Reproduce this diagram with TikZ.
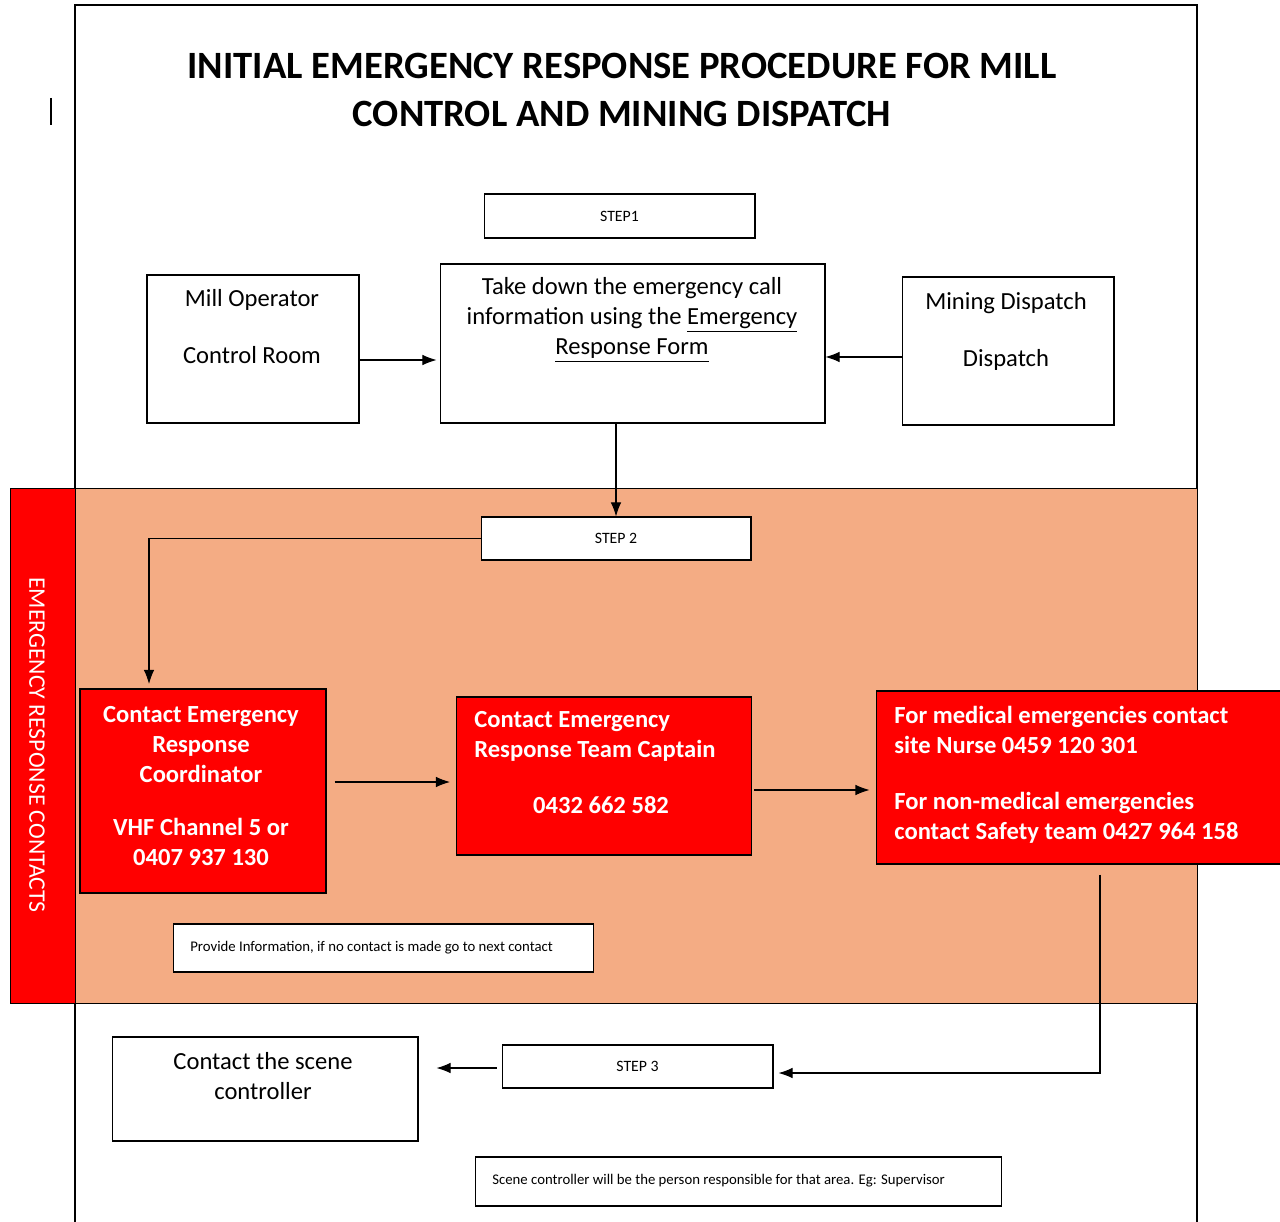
\documentclass[tikz,border=0pt]{standalone}
\usepackage{fontspec}
\setmainfont{Carlito}
\usetikzlibrary{arrows.meta,calc}

\definecolor{ered}{RGB}{255,0,0}
\definecolor{eband}{RGB}{244,172,132}

\begin{document}
\begin{tikzpicture}[x=0.02cm,y=-0.02cm,
    box/.style={draw, semithick, fill=white, inner sep=0pt},
    redbox/.style={draw, semithick, fill=ered, inner sep=0pt},
    txt/.style={font=\fontsize{14}{17}\selectfont, align=center, inner sep=0pt},
    wtxt/.style={font=\fontsize{14}{17}\selectfont\bfseries, text=white, inner sep=0pt},
    tiny/.style={font=\fontsize{8.4}{9}\selectfont, inner sep=0pt},
    steptxt/.style={font=\fontsize{9}{10}\selectfont, inner sep=0pt},
    arr/.style={-{Latex[length=8pt,width=6pt]}, semithick}]
    \useasboundingbox (0,0) rectangle (1280,1222);

    % page frame and the coloured band
    \draw[thick] (75,1222) -- (75,5) -- (1197,5) -- (1197,1222);
    \draw[fill=eband] (75,488) rectangle (1197,1003);
    \draw[fill=ered] (10,488) rectangle (75,1003);
    \node[rotate=-90, text=white, font=\fontsize{13.5}{15}\selectfont, inner sep=0pt] (side) at (37,745) {EMERGENCY RESPONSE CONTACTS};
    \draw[semithick] (51,98) -- (51,125);

    \node[font=\fontsize{22}{27}\selectfont\bfseries, align=center, inner sep=0pt] (title) at (622,90)
        {INITIAL EMERGENCY RESPONSE PROCEDURE FOR MILL\\CONTROL AND MINING DISPATCH};

    % step 1
    \node[box, minimum width=5.42cm, minimum height=0.88cm] (step1) at (619.5,216) {};
    \node[steptxt] (step1t) at (step1) {STEP1};
    \node[box, minimum width=4.24cm, minimum height=2.96cm] (mill) at (253,349) {};
    \node[txt] (millt) at (252,327) {Mill Operator\\[1.1em]Control Room};
    \node[box, minimum width=7.7cm, minimum height=3.18cm] (mid) at (632.5,343.5) {};
    \node[txt] (midt) at (632,320) {Take down the emergency call\\information using the \underline{Emergency}\\\underline{Response Form}};
    \node[box, minimum width=4.24cm, minimum height=2.96cm] (mine) at (1008,351) {};
    \node[txt] (minet) at (1006,331) {Mining Dispatch\\[1.1em]Dispatch};

    \draw[arr] ($(mill.east)+(0,11)$) -- ($(mill.east -| mid.west)+(-3,11)$);
    \draw[arr] ($(mine.west)+(0,6)$) -- ($(mine.west -| mid.east)+(0,6)$);

    % step 2
    \node[box, minimum width=5.4cm, minimum height=0.86cm] (step2) at (616,538.5) {};
    \node[steptxt] (step2t) at (step2) {STEP 2};
    \draw[arr] (step2.north |- mid.south) -- (step2.north);

    \node[redbox, minimum width=4.92cm, minimum height=4.08cm] (coord) at (203,791) {};
    \node[wtxt, align=center] (coordt) at (201,786) {Contact Emergency\\Response\\Coordinator\\[13pt]VHF Channel 5 or\\0407 937 130};
    \node[redbox, minimum width=5.9cm, minimum height=3.16cm] (capt) at (604,776) {};
    \node[wtxt, align=left, anchor=west] (captt) at (474,736) {Contact Emergency\\Response Team Captain};
    \node[wtxt] (captn) at (601,805) {0432 662 582};
    \node[redbox, minimum width=8.4cm, minimum height=3.46cm] (med) at (1086,777.5) {};
    \node[wtxt, align=left, anchor=west] (medt) at (894,775) {For medical emergencies contact\\site Nurse 0459 120 301\\[15pt]For non-medical emergencies\\contact Safety team 0427 964 158};

    \coordinate (c1) at (149,684);
    \draw[arr] (step2.west) -| (c1);
    \draw[arr] ($(coord.east)+(8,-9)$) -- ($(coord.east -| capt.west)+(-6,-9)$);
    \draw[arr] ($(capt.east)+(2,14)$) -- ($(capt.east -| med.west)+(-6,14)$);

    \node[box, minimum width=8.42cm, minimum height=0.96cm] (info) at (383.5,948) {};
    \node[tiny, anchor=west] (infot) at (190,948) {Provide Information, if no contact is made go to next contact};

    % step 3
    \node[box, minimum width=5.42cm, minimum height=0.86cm] (step3) at (637.5,1066.5) {};
    \node[steptxt] (step3t) at (step3) {STEP 3};
    \node[box, minimum width=6.12cm, minimum height=2.08cm] (scene) at (265,1089) {};
    \node[txt] (scenet) at (263,1076) {Contact the scene\\controller};
    \node[box, minimum width=10.54cm, minimum height=0.98cm] (note) at (738.5,1181.5) {};
    \node[tiny, anchor=west] (notet) at (492,1181) {Scene controller will be the person responsible for that area. Eg: Supervisor};

    \coordinate (turn) at (1100,1073);
    \draw[arr] ($(turn |- med.south)+(0,10)$) -- (turn) -- ($(step3.east |- turn)+(5,0)$);
    \draw[arr] ($(step3.west)+(-5,1.5)$) -- ($(step3.west -| scene.east)+(18,1.5)$);
\end{tikzpicture}
\end{document}
